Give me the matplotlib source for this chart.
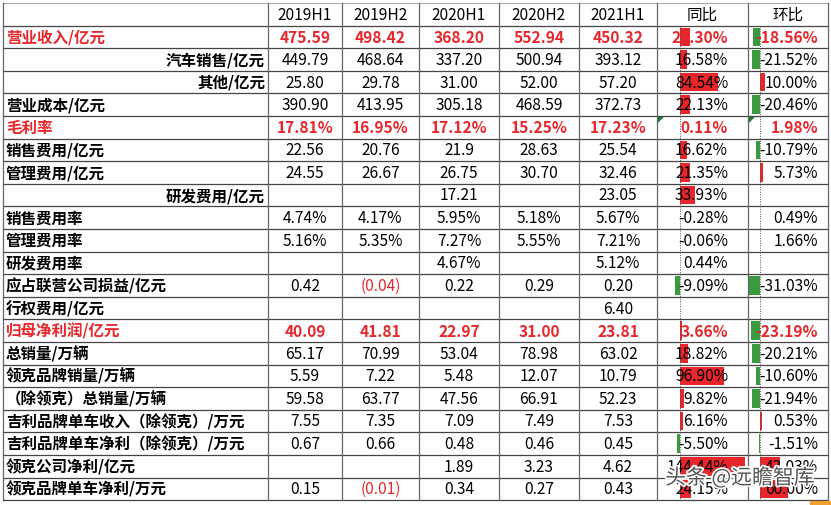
import matplotlib
matplotlib.use("Agg")
import matplotlib.pyplot as plt
from matplotlib.patches import Rectangle, Polygon
import matplotlib.patheffects as pe

plt.rcParams["font.family"] = ["Noto Sans CJK SC"]

periods = ["2019H1", "2019H2", "2020H1", "2020H2", "2021H1"]
labels = ["营业收入/亿元", "汽车销售/亿元", "其他/亿元", "营业成本/亿元", "毛利率",
          "销售费用/亿元", "管理费用/亿元", "研发费用/亿元", "销售费用率", "管理费用率",
          "研发费用率", "应占联营公司损益/亿元", "行权费用/亿元", "归母净利润/亿元",
          "总销量/万辆", "领克品牌销量/万辆", "（除领克）总销量/万辆",
          "吉利品牌单车收入（除领克）/万元", "吉利品牌单车净利（除领克）/万元",
          "领克公司净利/亿元", "领克品牌单车净利/万元"]
label_align = ["l", "r", "r", "l", "l", "l", "l", "r", "l", "l", "l", "l", "l", "l",
               "l", "l", "l", "l", "l", "l", "l"]
values = [
    ["475.59", "498.42", "368.20", "552.94", "450.32"],
    ["449.79", "468.64", "337.20", "500.94", "393.12"],
    ["25.80", "29.78", "31.00", "52.00", "57.20"],
    ["390.90", "413.95", "305.18", "468.59", "372.73"],
    ["17.81%", "16.95%", "17.12%", "15.25%", "17.23%"],
    ["22.56", "20.76", "21.9", "28.63", "25.54"],
    ["24.55", "26.67", "26.75", "30.70", "32.46"],
    ["", "", "17.21", "", "23.05"],
    ["4.74%", "4.17%", "5.95%", "5.18%", "5.67%"],
    ["5.16%", "5.35%", "7.27%", "5.55%", "7.21%"],
    ["", "", "4.67%", "", "5.12%"],
    ["0.42", "(0.04)", "0.22", "0.29", "0.20"],
    ["", "", "", "", "6.40"],
    ["40.09", "41.81", "22.97", "31.00", "23.81"],
    ["65.17", "70.99", "53.04", "78.98", "63.02"],
    ["5.59", "7.22", "5.48", "12.07", "10.79"],
    ["59.58", "63.77", "47.56", "66.91", "52.23"],
    ["7.55", "7.35", "7.09", "7.49", "7.53"],
    ["0.67", "0.66", "0.48", "0.46", "0.45"],
    ["", "", "1.89", "3.23", "4.62"],
    ["0.15", "(0.01)", "0.34", "0.27", "0.43"],
]
yoy = [22.30, 16.58, 84.54, 22.13, 0.11, 16.62, 21.35, 33.93, -0.28, -0.06, 0.44,
       -9.09, None, 3.66, 18.82, 96.90, 9.82, 6.16, -5.50, 144.44, 24.15]
qoq = [-18.56, -21.52, 10.00, -20.46, 1.98, -10.79, 5.73, None, 0.49, 1.66, None,
       -31.03, None, -23.19, -20.21, -10.60, -21.94, 0.53, -1.51, 43.03, 60.00]
bar_rows = [True]*4 + [False] + [True]*3 + [False]*3 + [True, False] + [True]*8
red_rows = {0, 4, 13}

fig = plt.figure(figsize=(8.31, 5.05), dpi=100)
ax = fig.add_axes([0, 0, 1, 1])
ax.set_xlim(0, 831); ax.set_ylim(505, 0); ax.axis("off")

cols = [3, 268, 342, 419, 499, 579, 657, 748, 828]
top, hh = 3, 22.5
rh = 22.6
ys = [top + hh + i * rh for i in range(len(labels) + 1)]
RED = "#e8262b"; GREEN = "#3a9a3e"
fs = 11.2

for j, p in enumerate(periods + ["同比", "环比"]):
    ax.text((cols[j+1] + cols[j+2]) / 2, top + hh/2 + 1, p, ha="center", va="center", fontsize=fs)

for i, lab in enumerate(labels):
    yc = (ys[i] + ys[i+1]) / 2 + 1
    red = i in red_rows
    col = RED if red else "black"
    if label_align[i] == "r":
        ax.text(cols[1] - 3, yc, lab, ha="right", va="center", fontsize=fs, color=col, weight="bold")
    else:
        ax.text(cols[0] + 3, yc, lab, ha="left", va="center", fontsize=fs, color=col, weight="bold")
    for j, v in enumerate(values[i]):
        c = RED if (red or v.startswith("(")) else "black"
        ax.text((cols[j+1] + cols[j+2]) / 2, yc, v, ha="center", va="center", fontsize=fs,
                color=c, weight="bold" if red else "normal")
    for vals, axis_x, pos_s, neg_s, txt_r in [(yoy, 680, 0.45, 0.5, 728), (qoq, 760, 0.47, 0.38, 818)]:
        v = vals[i]
        if v is None:
            continue
        y0 = ys[i] + 2; h = rh - 4
        if bar_rows[i]:
            if v >= 0:
                ax.add_patch(Rectangle((axis_x, y0), max(v * pos_s, 1.5), h, color=RED, lw=0, zorder=1))
            else:
                w = max(-v * neg_s, 1.5)
                ax.add_patch(Rectangle((axis_x - w, y0), w, h, color=GREEN, lw=0, zorder=1))
        ax.text(txt_r, yc, f"{v:.2f}%", ha="right", va="center", fontsize=fs,
                color=RED if red else "black", weight="bold" if red else "normal", zorder=3)

for axis_x in (680, 760):
    ax.plot([axis_x, axis_x], [ys[0], ys[-1]], color="#555555", lw=0.7, ls=(0, (1, 1.5)), zorder=2)

for cx in (cols[6], cols[7]):
    y = ys[4]
    ax.add_patch(Polygon([[cx + 1, y + 1], [cx + 7, y + 1], [cx + 1, y + 7]], color="#1f7a32", lw=0, zorder=4))

ax.plot([cols[0], cols[-1]], [top, top], color="#aaaaaa", lw=0.8)
for y in ys:
    ax.plot([cols[0], cols[-1]], [y, y], color="#444444", lw=0.9, zorder=2)
for x in cols:
    ax.plot([x, x], [top, ys[-1]], color="#666666", lw=0.9, zorder=2)

ax.text(740, 478, "头条 @远瞻智库", ha="center", va="center", fontsize=15, color="#555555",
        zorder=5, path_effects=[pe.withStroke(linewidth=2.5, foreground="white")])
ax.plot([812, 831], [503, 503], color="#f0a030", lw=3)

fig.savefig("out.png", dpi=100)
